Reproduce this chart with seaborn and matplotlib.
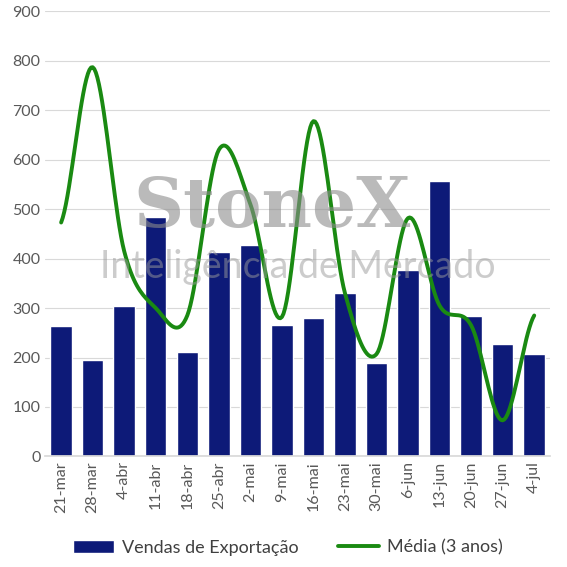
import numpy as np
import pandas as pd
import matplotlib
matplotlib.use("Agg")
import matplotlib.pyplot as plt
import seaborn as sns

semanas = ["21-mar", "28-mar", "4-abr", "11-abr", "18-abr", "25-abr", "2-mai", "9-mai",
           "16-mai", "23-mai", "30-mai", "6-jun", "13-jun", "20-jun", "27-jun", "4-jul"]
vendas = [263, 194, 305, 485, 211, 413, 428, 265, 279, 330, 189, 377, 556, 283, 227, 207]
media = [473, 787, 415, 300, 285, 620, 510, 282, 678, 330, 207, 482, 305, 265, 73, 285]

sns.set_theme(style="white")
plt.rcParams["font.family"] = ["Lato", "DejaVu Sans"]

fig, ax = plt.subplots(figsize=(5.67, 5.67), dpi=100)
df = pd.DataFrame({"semana": semanas, "vendas": vendas})
sns.barplot(data=df, x="semana", y="vendas", color="#0d1a78", saturation=1,
            width=0.68, ax=ax, label="Vendas de Exportação", zorder=2)


# Catmull-Rom smoothing (Excel-like smoothed line)
def smooth(y, n=20):
    y = np.asarray(y, float)
    p = np.concatenate([[y[0]], y, [y[-1]]])
    xs, ys = [], []
    for i in range(len(y) - 1):
        t = np.linspace(0, 1, n, endpoint=False)
        p0, p1, p2, p3 = p[i], p[i + 1], p[i + 2], p[i + 3]
        ys.append(0.5 * (2 * p1 + (-p0 + p2) * t + (2 * p0 - 5 * p1 + 4 * p2 - p3) * t**2
                         + (-p0 + 3 * p1 - 3 * p2 + p3) * t**3))
        xs.append(i + t)
    xs.append([len(y) - 1])
    ys.append([y[-1]])
    return np.concatenate(xs), np.concatenate(ys)


sx, sy = smooth(media)
ax.plot(sx, sy, color="#1a8a12", lw=2.8, label="Média (3 anos)", zorder=3)

ax.set_ylim(0, 900)
ax.set_yticks(range(0, 901, 100))
ax.set_xlim(-0.5, len(semanas) - 0.5)
ax.grid(axis="y", color="#d9d9d9", lw=0.8, zorder=0)
ax.set_axisbelow(True)
for s in ["top", "right", "left"]:
    ax.spines[s].set_visible(False)
ax.spines["bottom"].set_color("#d9d9d9")
ax.set_xlabel("")
ax.set_ylabel("")
ax.tick_params(axis="x", rotation=90, labelsize=11.5, colors="#595959", length=0)
ax.tick_params(axis="y", labelsize=11.5, colors="#595959", length=0)

ax.text(0.45, 0.56, "StoneX", transform=ax.transAxes, ha="center", va="center",
        fontsize=50, color="#8c8c8c", alpha=0.6, family="DejaVu Serif",
        fontweight="bold", zorder=4)
ax.text(0.5, 0.425, "Inteligência de Mercado", transform=ax.transAxes, ha="center",
        va="center", fontsize=27, color="#9a9a9a", alpha=0.5, zorder=4)

h, l = ax.get_legend_handles_labels()
order = [l.index("Vendas de Exportação"), l.index("Média (3 anos)")]
ax.legend([h[i] for i in order], [l[i] for i in order], loc="upper center",
          bbox_to_anchor=(0.48, -0.15), ncol=2, frameon=False, fontsize=13,
          handlelength=2.3, handletextpad=0.4, columnspacing=2.2, labelcolor="#404040")

fig.subplots_adjust(left=0.08, right=0.97, top=0.98, bottom=0.195)
fig.savefig("out.png", dpi=100)
